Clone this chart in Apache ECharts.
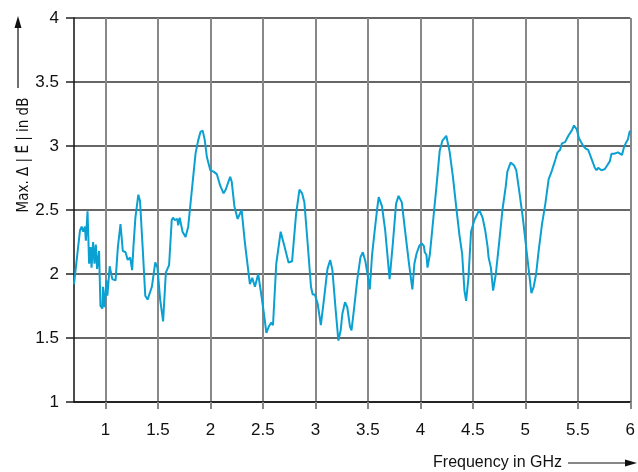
<!DOCTYPE html>
<html>
<head>
<meta charset="utf-8">
<script src="https://cdn.jsdelivr.net/npm/echarts@6/dist/echarts.min.js"></script>
<style>html,body{margin:0;padding:0;background:#fff}#c{width:638px;height:472px}</style>
</head>
<body>
<div id="c"></div>
<script>
const freqGHz = [0.70,0.757,0.773,0.788,0.804,0.813,0.829,0.844,0.858,0.867,0.882,0.895,0.908,0.920,0.939,0.952,0.971,0.976,0.992,1.008,1.018,1.040,1.065,1.080,1.096,1.118,1.143,1.165,1.191,1.212,1.235,1.254,1.266,1.285,1.313,1.329,1.354,1.379,1.401,1.417,1.442,1.474,1.495,1.521,1.549,1.575,1.606,1.631,1.643,1.662,1.684,1.693,1.707,1.722,1.734,1.763,1.788,1.810,1.832,1.858,1.882,1.905,1.926,1.945,1.967,1.999,2.030,2.061,2.093,2.125,2.146,2.188,2.203,2.228,2.259,2.297,2.329,2.376,2.398,2.424,2.455,2.486,2.511,2.533,2.556,2.580,2.596,2.627,2.669,2.707,2.744,2.778,2.816,2.848,2.873,2.895,2.926,2.958,2.974,2.995,3.021,3.052,3.084,3.115,3.141,3.162,3.193,3.219,3.241,3.257,3.282,3.304,3.329,3.344,3.367,3.398,3.429,3.452,3.476,3.502,3.518,3.540,3.561,3.587,3.603,3.634,3.665,3.707,3.738,3.769,3.792,3.823,3.854,3.892,3.924,3.943,3.964,3.990,4.011,4.033,4.042,4.058,4.068,4.090,4.122,4.153,4.184,4.209,4.247,4.278,4.310,4.342,4.373,4.398,4.420,4.436,4.458,4.483,4.514,4.561,4.593,4.618,4.641,4.650,4.672,4.693,4.719,4.750,4.782,4.813,4.829,4.860,4.892,4.914,4.945,4.976,5.008,5.033,5.058,5.080,5.103,5.127,5.159,5.191,5.222,5.254,5.285,5.307,5.332,5.348,5.379,5.410,5.442,5.464,5.490,5.511,5.530,5.552,5.575,5.599,5.631,5.662,5.678,5.694,5.726,5.758,5.789,5.805,5.821,5.846,5.883,5.899,5.921,5.940,5.962,5.977,5.993,6.00];
const maxDeltaE = [1.92,2.34,2.37,2.33,2.37,2.26,2.49,2.08,2.21,2.05,2.25,2.08,2.23,2.04,2.18,1.75,1.73,1.90,1.74,1.95,1.83,2.06,1.96,1.97,1.95,2.21,2.39,2.18,2.17,2.11,2.13,2.03,2.21,2.44,2.62,2.57,2.21,1.83,1.80,1.81,1.90,2.09,2.05,1.80,1.63,2.01,2.07,2.42,2.44,2.42,2.43,2.38,2.44,2.38,2.33,2.29,2.37,2.55,2.73,2.94,3.04,3.11,3.12,3.05,2.91,2.81,2.80,2.78,2.69,2.63,2.66,2.76,2.72,2.53,2.43,2.50,2.24,1.92,1.97,1.90,2.00,1.83,1.68,1.54,1.59,1.62,1.60,2.08,2.33,2.21,2.09,2.10,2.47,2.66,2.63,2.56,2.24,1.90,1.84,1.84,1.77,1.60,1.82,2.04,2.11,2.03,1.72,1.48,1.56,1.69,1.78,1.74,1.59,1.56,1.72,1.95,2.13,2.17,2.10,1.97,1.88,2.15,2.31,2.50,2.60,2.53,2.34,1.96,2.24,2.55,2.61,2.56,2.34,2.08,1.88,2.08,2.16,2.22,2.24,2.22,2.17,2.15,2.05,2.15,2.42,2.68,2.96,3.04,3.08,2.96,2.76,2.52,2.30,2.16,1.87,1.79,1.97,2.33,2.42,2.50,2.44,2.34,2.21,2.13,2.05,1.87,2.00,2.24,2.50,2.68,2.80,2.87,2.85,2.81,2.63,2.44,2.21,2.03,1.85,1.90,2.00,2.18,2.39,2.55,2.74,2.81,2.89,2.95,2.97,3.02,3.03,3.08,3.12,3.16,3.13,3.06,3.05,3.00,2.98,2.97,2.90,2.83,2.81,2.83,2.81,2.82,2.86,2.88,2.94,2.94,2.95,2.96,2.93,2.99,3.03,3.05,3.11,3.12];
const xTicks = [1,1.5,2,2.5,3,3.5,4,4.5,5,5.5,6];
const yTitle = 'Max. \u0394 | E\u20D7 | in dB';
const xTitle = 'Frequency in GHz';

const FONT = '"Liberation Sans", Arial, sans-serif';
const TFONT = '"DejaVu Sans Condensed", "DejaVu Sans", sans-serif';
const chart = echarts.init(document.getElementById('c'), null, {renderer: 'canvas'});
const points = freqGHz.map((f, i) => [f, maxDeltaE[i]]);
chart.setOption({
  animation: false,
  grid: {left: 74, right: 2, top: 18, bottom: 70, containLabel: false},
  xAxis: {
    type: 'value', min: 0.7, max: 6,
    axisLine: {show: true, onZero: false, lineStyle: {color: '#111', width: 1.5}},
    axisTick: {show: true, customValues: xTicks, length: 7, lineStyle: {color: '#888', width: 2}},
    axisLabel: {show: true, customValues: xTicks, margin: 20, fontFamily: FONT, fontSize: 17, color: '#111',
      formatter: v => String(v)},
    splitLine: {show: true, lineStyle: {color: '#888', width: 2}}
  },
  yAxis: {
    type: 'value', min: 1, max: 4, interval: 0.5,
    axisLine: {show: true, lineStyle: {color: '#111', width: 1.5}},
    axisTick: {show: true, length: 8, lineStyle: {color: '#222', width: 1.5}},
    axisLabel: {margin: 15, fontFamily: FONT, fontSize: 17, color: '#111', formatter: v => String(v)},
    splitLine: {show: true, lineStyle: {color: '#333', width: 1.5}}
  },
  series: [{
    type: 'line', data: points, showSymbol: false, symbol: 'none',
    lineStyle: {color: '#0aa0d2', width: 2}, clip: true
  }],
  graphic: [
    {type: 'text', x: 24, y: 155, rotation: Math.PI / 2,
      style: {text: yTitle, font: '15px ' + TFONT, fill: '#111', align: 'center', verticalAlign: 'middle'}},
    {type: 'line', shape: {x1: 18, y1: 88, x2: 18, y2: 26}, style: {stroke: '#111', lineWidth: 1.2}},
    {type: 'polygon', shape: {points: [[18, 16], [14.5, 28], [21.5, 28]]}, style: {fill: '#111'}},
    {type: 'text', x: 562, y: 463,
      style: {text: xTitle, font: '16px ' + FONT, fill: '#111', align: 'right', verticalAlign: 'middle'}},
    {type: 'line', shape: {x1: 568, y1: 463, x2: 626, y2: 463}, style: {stroke: '#111', lineWidth: 1.2}},
    {type: 'polygon', shape: {points: [[637, 463], [625, 459.5], [625, 466.5]]}, style: {fill: '#111'}}
  ]
});
</script>
</body>
</html>
